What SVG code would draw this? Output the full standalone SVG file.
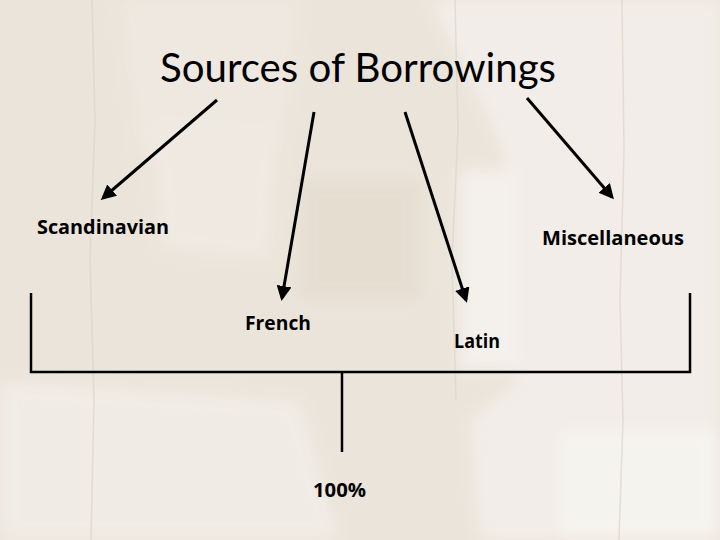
<svg xmlns="http://www.w3.org/2000/svg" width="720" height="540" viewBox="0 0 720 540">
<defs>
<style>
.t{font-family:Lato,"Open Sans","Liberation Sans",sans-serif;fill:#000}
.lbl{font-family:"Open Sans","Liberation Sans",sans-serif;font-size:19.5px;font-weight:700}
.ln{stroke:#000;stroke-width:2.5;fill:none}
.arr{stroke:#000;stroke-width:3;fill:none;marker-end:url(#ah)}
</style>
<marker id="ah" viewBox="0 0 10 10" refX="8" refY="5" markerWidth="5" markerHeight="5" orient="auto" markerUnits="strokeWidth">
<path d="M0,0 L10,5 L0,10 z" fill="#000"/>
</marker>
<filter id="blur" x="-20%" y="-20%" width="140%" height="140%"><feGaussianBlur stdDeviation="8"/></filter>
</defs>
<g id="background">
<rect width="720" height="540" fill="#ebe4da"/>
<g filter="url(#blur)" opacity="0.9">
<path d="M430,0 L720,0 L720,540 L480,540 L470,420 L520,380 L500,300 L520,200 L490,120 Z" fill="#f3efea"/>
<path d="M0,380 L300,400 L340,540 L0,540 Z" fill="#f1ede7"/>
<path d="M120,0 L300,0 L280,150 L140,160 Z" fill="#efe9e1"/>
<path d="M150,120 L280,130 L270,260 L160,250 Z" fill="#f0eae3"/>
<rect x="300" y="180" width="120" height="120" fill="#e6ddd1"/>
<rect x="560" y="430" width="160" height="110" fill="#f7f5f1"/>
<rect x="460" y="170" width="60" height="200" fill="#f5f2ee"/>
</g>
<g stroke="#ddd4c8" stroke-width="1.5" fill="none" opacity="0.7">
<path d="M92,0 L95,120 L90,260 L94,400 L91,540"/>
<path d="M622,0 L624,150 L620,300 L623,420 L619,540"/>
<path d="M455,0 L458,130 L452,260 L456,400"/>
</g>
</g>
<g id="title"><text class="t" x="358" y="82" font-size="40" text-anchor="middle" textLength="396" lengthAdjust="spacingAndGlyphs">Sources of Borrowings</text></g>
<g id="connectors">
<line class="arr" x1="217" y1="100" x2="103" y2="198"/>
<line class="arr" x1="314" y1="112" x2="282" y2="298"/>
<line class="arr" x1="405" y1="112" x2="466" y2="300"/>
<line class="arr" x1="527" y1="98" x2="612" y2="197"/>
<path class="ln" d="M31,293 V372 H690 V293"/>
<line class="ln" x1="342" y1="372" x2="342" y2="452"/>
</g>
<g id="node-scandinavian"><text class="t lbl" x="37" y="234" textLength="132" lengthAdjust="spacingAndGlyphs">Scandinavian</text></g>
<g id="node-miscellaneous"><text class="t lbl" x="542" y="245" textLength="142" lengthAdjust="spacingAndGlyphs">Miscellaneous</text></g>
<g id="node-french"><text class="t lbl" x="245" y="330" textLength="66" lengthAdjust="spacingAndGlyphs">French</text></g>
<g id="node-latin"><text class="t lbl" x="454" y="348" textLength="46" lengthAdjust="spacingAndGlyphs">Latin</text></g>
<g id="node-total"><text class="t lbl" x="313" y="497" textLength="53" lengthAdjust="spacingAndGlyphs">100%</text></g>
</svg>
